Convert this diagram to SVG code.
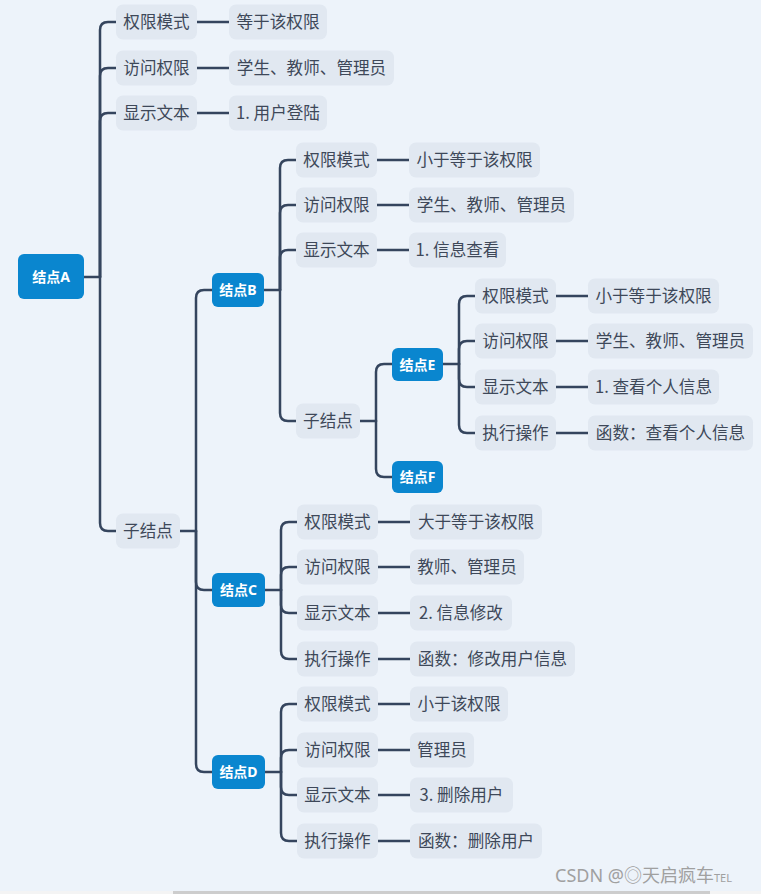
<svg xmlns="http://www.w3.org/2000/svg" width="761" height="894" viewBox="0 0 761 894">
<style>
.bg{fill:#EDF3FA}
.lb{fill:#E1E8F1}
.nd{fill:#0A86CF}
.t{font-family:"Noto Sans CJK SC","Noto Sans",sans-serif;font-size:16.6px;fill:#3E4859;text-anchor:middle}
.nt{font-family:"Noto Sans","Noto Sans CJK SC",sans-serif;font-size:14px;font-weight:bold;fill:#FFFFFF;text-anchor:middle}
.c path{fill:none;stroke:#35455E;stroke-width:2.5;stroke-linecap:round}
.wm{font-family:"Noto Sans","Noto Sans CJK SC",sans-serif;font-size:18px;fill:#A0A0A0}
</style>
<rect class="bg" x="0" y="0" width="761" height="894"/>
<rect x="0" y="891" width="761" height="3" fill="#F4F4F4"/>
<rect x="173" y="891" width="537" height="3" fill="#CDCDCD"/>

<g class="c" id="connectors">
<path d="M84,277 H100"/>
<path d="M100,277 V30 Q100,22 108,22 H116"/>
<path d="M100,277 V76 Q100,68 108,68 H116"/>
<path d="M100,277 V121 Q100,113 108,113 H116"/>
<path d="M100,277 V523 Q100,531 108,531 H116"/>
<path d="M197,22 H229"/><path d="M197,68 H229"/><path d="M197,113 H229"/>
<path d="M180,531 H196"/>
<path d="M196,531 V298 Q196,290 204,290 H212"/>
<path d="M196,531 V582 Q196,590 204,590 H212"/>
<path d="M196,531 V764 Q196,772 204,772 H212"/>
<path d="M264,290 H280"/>
<path d="M280,290 V168 Q280,160 288,160 H296"/>
<path d="M280,290 V213 Q280,205 288,205 H296"/>
<path d="M280,290 V258 Q280,250 288,250 H296"/>
<path d="M280,290 V413 Q280,421 288,421 H296"/>
<path d="M377,160 H409"/><path d="M377,205 H409"/><path d="M377,250 H409"/>
<path d="M360,421 H376"/>
<path d="M376,421 V372 Q376,364 384,364 H392"/>
<path d="M376,421 V469 Q376,477 384,477 H392"/>
<path d="M443,364 H459"/>
<path d="M459,364 V304 Q459,296 467,296 H475"/>
<path d="M459,364 V349 Q459,341 467,341 H475"/>
<path d="M459,364 V379 Q459,387 467,387 H475"/>
<path d="M459,364 V425 Q459,433 467,433 H475"/>
<path d="M556,296 H588"/><path d="M556,341 H588"/><path d="M556,387 H588"/><path d="M556,433 H588"/>
<path d="M265,590 H281"/>
<path d="M281,590 V530 Q281,522 289,522 H297"/>
<path d="M281,590 V575 Q281,567 289,567 H297"/>
<path d="M281,590 V605 Q281,613 289,613 H297"/>
<path d="M281,590 V651 Q281,659 289,659 H297"/>
<path d="M378,522 H410"/><path d="M378,567 H410"/><path d="M378,613 H410"/><path d="M378,659 H410"/>
<path d="M265,772 H281"/>
<path d="M281,772 V712 Q281,704 289,704 H297"/>
<path d="M281,772 V758 Q281,750 289,750 H297"/>
<path d="M281,772 V787 Q281,795 289,795 H297"/>
<path d="M281,772 V833 Q281,841 289,841 H297"/>
<path d="M378,704 H410"/><path d="M378,750 H410"/><path d="M378,795 H410"/><path d="M378,841 H410"/>
</g>

<g id="nodeA"><rect class="nd" x="18" y="254" width="66" height="45" rx="6"/><text class="nt" x="51" y="282">结点A</text></g>
<g id="a1"><rect class="lb" x="116" y="4.5" width="81" height="35" rx="7"/><text class="t" x="156.5" y="28">权限模式</text></g>
<g id="a1v"><rect class="lb" x="229" y="4.5" width="98" height="35" rx="7"/><text class="t" x="278" y="28">等于该权限</text></g>
<g id="a2"><rect class="lb" x="116" y="50.5" width="81" height="35" rx="7"/><text class="t" x="156.5" y="74">访问权限</text></g>
<g id="a2v"><rect class="lb" x="229" y="50.5" width="165" height="35" rx="7"/><text class="t" x="311.5" y="74">学生、教师、管理员</text></g>
<g id="a3"><rect class="lb" x="116" y="95.5" width="81" height="35" rx="7"/><text class="t" x="156.5" y="119">显示文本</text></g>
<g id="a3v"><rect class="lb" x="229" y="95.5" width="98" height="35" rx="7"/><text class="t" x="278" y="119">1. 用户登陆</text></g>
<g id="a4"><rect class="lb" x="116" y="513.5" width="64" height="35" rx="7"/><text class="t" x="148" y="537">子结点</text></g>

<g id="nodeB"><rect class="nd" x="212" y="273" width="52" height="34" rx="6"/><text class="nt" x="238" y="295">结点B</text></g>
<g id="b1"><rect class="lb" x="296" y="142.5" width="81" height="35" rx="7"/><text class="t" x="336.5" y="166">权限模式</text></g>
<g id="b1v"><rect class="lb" x="409" y="142.5" width="131" height="35" rx="7"/><text class="t" x="474.5" y="166">小于等于该权限</text></g>
<g id="b2"><rect class="lb" x="296" y="187.5" width="81" height="35" rx="7"/><text class="t" x="336.5" y="211">访问权限</text></g>
<g id="b2v"><rect class="lb" x="409" y="187.5" width="165" height="35" rx="7"/><text class="t" x="491.5" y="211">学生、教师、管理员</text></g>
<g id="b3"><rect class="lb" x="296" y="232.5" width="81" height="35" rx="7"/><text class="t" x="336.5" y="256">显示文本</text></g>
<g id="b3v"><rect class="lb" x="409" y="232.5" width="97" height="35" rx="7"/><text class="t" x="457.5" y="256">1. 信息查看</text></g>
<g id="b4"><rect class="lb" x="296" y="403.5" width="64" height="35" rx="7"/><text class="t" x="328" y="427">子结点</text></g>

<g id="nodeE"><rect class="nd" x="392" y="348" width="51" height="33" rx="6"/><text class="nt" x="417.5" y="369.5">结点E</text></g>
<g id="nodeF"><rect class="nd" x="392" y="461" width="51" height="32" rx="6"/><text class="nt" x="417.5" y="482">结点F</text></g>
<g id="e1"><rect class="lb" x="475" y="278.5" width="81" height="35" rx="7"/><text class="t" x="515.5" y="302">权限模式</text></g>
<g id="e1v"><rect class="lb" x="588" y="278.5" width="131" height="35" rx="7"/><text class="t" x="653.5" y="302">小于等于该权限</text></g>
<g id="e2"><rect class="lb" x="475" y="323.5" width="81" height="35" rx="7"/><text class="t" x="515.5" y="347">访问权限</text></g>
<g id="e2v"><rect class="lb" x="588" y="323.5" width="165" height="35" rx="7"/><text class="t" x="670.5" y="347">学生、教师、管理员</text></g>
<g id="e3"><rect class="lb" x="475" y="369.5" width="81" height="35" rx="7"/><text class="t" x="515.5" y="393">显示文本</text></g>
<g id="e3v"><rect class="lb" x="588" y="369.5" width="131" height="35" rx="7"/><text class="t" x="653.5" y="393">1. 查看个人信息</text></g>
<g id="e4"><rect class="lb" x="475" y="415.5" width="81" height="35" rx="7"/><text class="t" x="515.5" y="439">执行操作</text></g>
<g id="e4v"><rect class="lb" x="588" y="415.5" width="165" height="35" rx="7"/><text class="t" x="670.5" y="439">函数：查看个人信息</text></g>

<g id="nodeC"><rect class="nd" x="212" y="573" width="53" height="34" rx="6"/><text class="nt" x="238.5" y="595">结点C</text></g>
<g id="c1"><rect class="lb" x="297" y="504.5" width="81" height="35" rx="7"/><text class="t" x="337.5" y="528">权限模式</text></g>
<g id="c1v"><rect class="lb" x="410" y="504.5" width="132" height="35" rx="7"/><text class="t" x="476" y="528">大于等于该权限</text></g>
<g id="c2"><rect class="lb" x="297" y="549.5" width="81" height="35" rx="7"/><text class="t" x="337.5" y="573">访问权限</text></g>
<g id="c2v"><rect class="lb" x="410" y="549.5" width="114" height="35" rx="7"/><text class="t" x="467" y="573">教师、管理员</text></g>
<g id="c3"><rect class="lb" x="297" y="595.5" width="81" height="35" rx="7"/><text class="t" x="337.5" y="619">显示文本</text></g>
<g id="c3v"><rect class="lb" x="410" y="595.5" width="102" height="35" rx="7"/><text class="t" x="461" y="619">2. 信息修改</text></g>
<g id="c4"><rect class="lb" x="297" y="641.5" width="81" height="35" rx="7"/><text class="t" x="337.5" y="665">执行操作</text></g>
<g id="c4v"><rect class="lb" x="410" y="641.5" width="165" height="35" rx="7"/><text class="t" x="492.5" y="665">函数：修改用户信息</text></g>

<g id="nodeD"><rect class="nd" x="212" y="755" width="53" height="34" rx="6"/><text class="nt" x="238.5" y="777">结点D</text></g>
<g id="d1"><rect class="lb" x="297" y="686.5" width="81" height="35" rx="7"/><text class="t" x="337.5" y="710">权限模式</text></g>
<g id="d1v"><rect class="lb" x="410" y="686.5" width="98" height="35" rx="7"/><text class="t" x="459" y="710">小于该权限</text></g>
<g id="d2"><rect class="lb" x="297" y="732.5" width="81" height="35" rx="7"/><text class="t" x="337.5" y="756">访问权限</text></g>
<g id="d2v"><rect class="lb" x="410" y="732.5" width="64" height="35" rx="7"/><text class="t" x="442" y="756">管理员</text></g>
<g id="d3"><rect class="lb" x="297" y="777.5" width="81" height="35" rx="7"/><text class="t" x="337.5" y="801">显示文本</text></g>
<g id="d3v"><rect class="lb" x="410" y="777.5" width="103" height="35" rx="7"/><text class="t" x="461.5" y="801">3. 删除用户</text></g>
<g id="d4"><rect class="lb" x="297" y="823.5" width="81" height="35" rx="7"/><text class="t" x="337.5" y="847">执行操作</text></g>
<g id="d4v"><rect class="lb" x="410" y="823.5" width="132" height="35" rx="7"/><text class="t" x="476" y="847">函数：删除用户</text></g>

<text class="wm" x="555" y="882">CSDN @◎天启疯车<tspan font-size="11">TEL</tspan></text>
</svg>
